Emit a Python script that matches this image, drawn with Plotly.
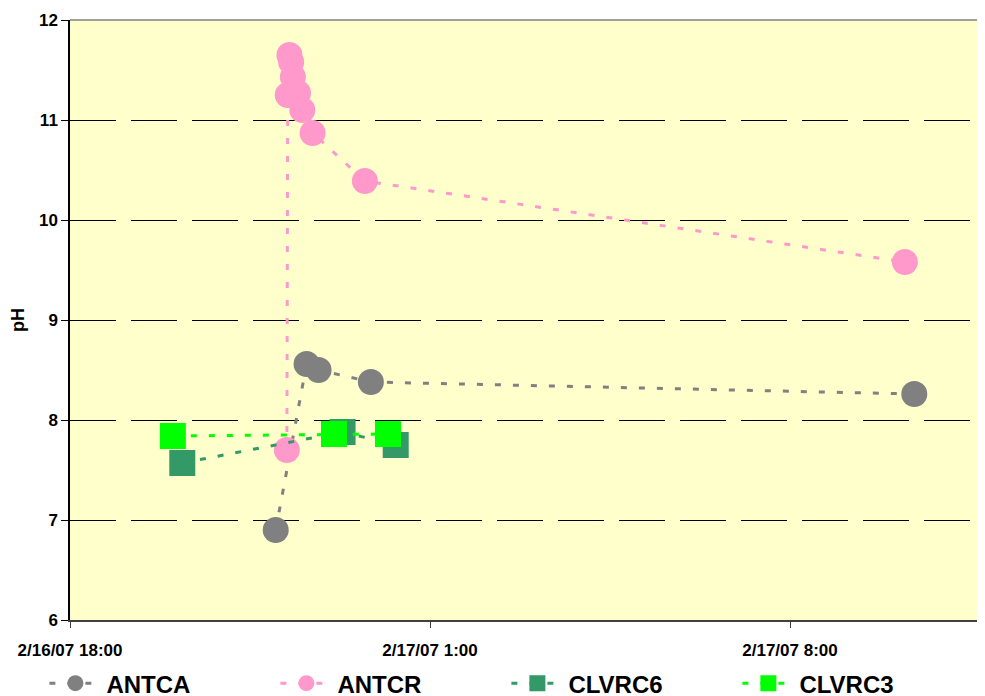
import plotly.graph_objects as go

# ---- data (times, pH) ----
antca_t = ["2007-02-16 22:00", "2007-02-16 22:36", "2007-02-16 22:50", "2007-02-16 23:51", "2007-02-17 10:25"]
antca_ph = [6.90, 8.56, 8.50, 8.38, 8.26]

antcr_t = ["2007-02-16 22:13", "2007-02-16 22:14", "2007-02-16 22:16", "2007-02-16 22:18",
           "2007-02-16 22:20", "2007-02-16 22:26", "2007-02-16 22:31", "2007-02-16 22:43",
           "2007-02-16 23:44", "2007-02-17 10:14"]
antcr_ph = [7.70, 11.25, 11.65, 11.58, 11.43, 11.27, 11.10, 10.87, 10.39, 9.58]

clvrc6_t = ["2007-02-16 20:11", "2007-02-16 23:18", "2007-02-17 00:20"]
clvrc6_ph = [7.57, 7.88, 7.75]

clvrc3_t = ["2007-02-16 20:00", "2007-02-16 23:08", "2007-02-17 00:11"]
clvrc3_ph = [7.84, 7.86, 7.86]

series_names = ["ANTCA", "ANTCR", "CLVRC6", "CLVRC3"]
x_range = ["2007-02-16 18:00", "2007-02-17 11:47:30"]
y_range = [6, 12]

FONT = "Liberation Sans, Arial, sans-serif"

fig = go.Figure()

def add(name, t, ph, color, symbol):
    fig.add_trace(go.Scatter(
        x=t, y=ph, name=name, mode="lines+markers",
        line=dict(color=color, width=3, dash="6px,12px"),
        marker=dict(color=color, size=26, symbol=symbol, line=dict(width=0)),
    ))

add(series_names[0], antca_t, antca_ph, "#808080", "circle")
add(series_names[1], antcr_t, antcr_ph, "#FF99CC", "circle")
add(series_names[2], clvrc6_t, clvrc6_ph, "#339966", "square")
add(series_names[3], clvrc3_t, clvrc3_ph, "#00FF00", "square")

fig.update_layout(
    width=985, height=696,
    margin=dict(l=62, r=8, t=12, b=84, autoexpand=False),
    paper_bgcolor="white",
    plot_bgcolor="#FFFFCC",
    font=dict(family=FONT, color="black"),
    showlegend=True,
    legend=dict(
        orientation="h", x=-0.028, xanchor="left", y=-0.106, yanchor="middle",
        font=dict(family=FONT, size=24, color="black", weight="bold"),
        itemwidth=52,
        entrywidth=164, entrywidthmode="pixels",
        bgcolor="rgba(0,0,0,0)",
    ),
    xaxis=dict(
        type="date", range=x_range, automargin=False,
        tick0="2007-02-16 18:00", dtick=7 * 3600 * 1000,
        tickformat="%-m/%-d/%y %-H:%M",
        ticks="outside", ticklen=6, tickcolor="#404040",
        showgrid=False, zeroline=False,
        showline=True, linecolor="#404040", linewidth=2,
        tickfont=dict(family=FONT, size=17, color="black", weight="bold"),
        ticklabelstandoff=8,
    ),
    yaxis=dict(
        range=y_range, dtick=1, automargin=False,
        ticks="outside", ticklen=7, tickcolor="black",
        showgrid=True, gridcolor="black", gridwidth=1, griddash="46px,15px",
        zeroline=False,
        showline=True, linecolor="black", linewidth=1.5,
        tickfont=dict(family=FONT, size=17, color="black", weight="bold"),
        title=dict(text="pH", font=dict(family=FONT, size=18, color="black", weight="bold"), standoff=14),
    ),
)

fig.add_shape(type="line", xref="paper", yref="paper", x0=0, x1=1, y0=1, y1=1,
              line=dict(color="#808080", width=1.5))

fig.write_html("out.html")
